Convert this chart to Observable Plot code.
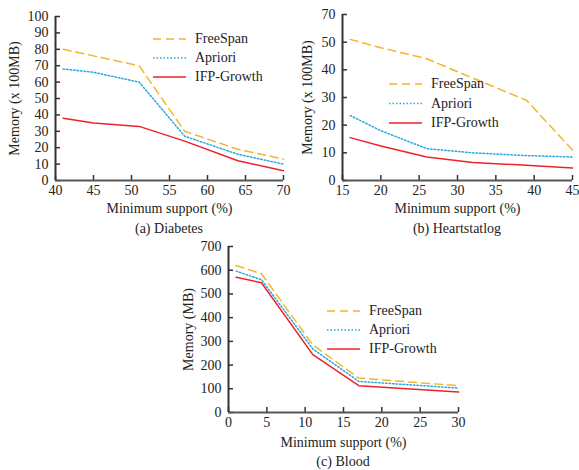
<!DOCTYPE html>
<html>
<head>
<meta charset="utf-8">
<script src="https://cdn.jsdelivr.net/npm/d3@7"></script>
<script src="https://cdn.jsdelivr.net/npm/@observablehq/plot@0.6"></script>
<style>
  html, body { margin: 0; padding: 0; background: #fff; }
  #wrap { position: relative; width: 579px; height: 470px; font-family: "Liberation Serif", "DejaVu Serif", serif; color: #222; }
  .panel { position: absolute; }
  .caption { position: absolute; font-size: 14px; text-align: center; white-space: nowrap; }
</style>
</head>
<body>
<div id="wrap"></div>
<script>
// ---------- data ----------
const seriesNames = ["FreeSpan", "Apriori", "IFP-Growth"];

// (a) Diabetes
const diabetesSupport = [41, 45, 51, 57, 64, 70];
const diabetesFreeSpan = [80, 76, 70, 30, 19, 13];
const diabetesApriori = [68, 66, 60, 27, 16, 10];
const diabetesIFP = [38, 35, 33, 24, 12, 6];
const diabetesXTicks = [40, 45, 50, 55, 60, 65, 70];
const diabetesYTicks = [0, 10, 20, 30, 40, 50, 60, 70, 80, 90, 100];
const diabetesYTickLabels = ["0", "10", "20", "30", "40", "50", "60", "70", "80", "90", "100"];

// (b) Heartstatlog
const heartSupport = [16, 20, 26, 32, 39, 45];
const heartFreeSpan = [51, 48, 44, 37, 29, 11];
const heartApriori = [23.5, 18, 11.5, 10, 9, 8.5];
const heartIFP = [15.5, 12.5, 8.5, 6.5, 5.5, 4.5];
const heartXTicks = [15, 20, 25, 30, 35, 40, 45];
const heartYTicks = [0, 10, 20, 30, 40, 50, 60];
const heartYTickLabels = ["0", "10", "20", "30", "40", "50", "70"];

// (c) Blood
const bloodSupport = [1, 4.3, 11, 17, 30];
const bloodFreeSpan = [620, 585, 285, 145, 113];
const bloodApriori = [596, 560, 268, 131, 103];
const bloodIFP = [570, 547, 244, 113, 86];
const bloodXTicks = [0, 5, 10, 15, 20, 25, 30];
const bloodYTicks = [0, 100, 200, 300, 400, 500, 600, 700];
const bloodYTickLabels = ["0", "100", "200", "300", "400", "500", "600", "700"];

const xLabel = "Minimum support (%)";

// ---------- styles ----------
const seriesStyle = {
  "FreeSpan":   {stroke: "#f5b52a", dash: "8,5"},
  "Apriori":    {stroke: "#29a8e0", dash: "1.5,2"},
  "IFP-Growth": {stroke: "#ee2229", dash: null}
};
const axisColor = "#333";
const FONT = "\"Liberation Serif\", \"DejaVu Serif\", serif";

function makePanel(cfg) {
  const {left, top, width, height, mt, mr, mb, ml, xDomain, yDomain, xTicks, yTicks, yTickLabels,
         support, values, yLabel, yLabelOffset, xLabelOffset, caption, captionTop, legend} = cfg;
  const fw = width - ml - mr, fh = height - mt - mb;
  const rows = [];
  seriesNames.forEach((name, k) => support.forEach((s, i) => rows.push({series: name, x: s, y: values[k][i]})));

  const lineMarks = seriesNames.map(name => Plot.line(rows.filter(r => r.series === name), {
    x: "x", y: "y", stroke: seriesStyle[name].stroke, strokeWidth: 1.5,
    strokeDasharray: seriesStyle[name].dash
  }));

  const svg = Plot.plot({
    width, height, marginTop: mt, marginRight: mr, marginBottom: mb, marginLeft: ml,
    style: {fontFamily: FONT, fontSize: "14px", background: "transparent", overflow: "visible", color: "#222"},
    x: {domain: xDomain},
    y: {domain: yDomain},
    marks: [
      ...lineMarks,
      Plot.tickX(xTicks, {x: d => d, insetTop: fh - 5, stroke: axisColor, strokeWidth: 1.5}),
      Plot.tickY(yTicks, {y: d => d, insetRight: fw - 5, stroke: axisColor, strokeWidth: 1.5}),
      Plot.ruleY([yDomain[0]], {stroke: "#555", strokeWidth: 2}),
      Plot.ruleX([xDomain[0]], {stroke: axisColor, strokeWidth: 2}),
      Plot.axisX(xTicks, {tickSize: 0, tickPadding: 5, fill: "#222", label: xLabel, labelAnchor: "center", labelOffset: xLabelOffset, labelArrow: "none"}),
      Plot.axisY(yTicks, {tickSize: 0, tickPadding: 7, fill: "#222", tickFormat: d => yTickLabels[yTicks.indexOf(d)],
        label: yLabel, labelAnchor: "center", labelOffset: yLabelOffset, labelArrow: "none"})
    ]
  });

  // legend (pixel layout, not data)
  const g = d3.select(svg).append("g").attr("font-family", FONT).attr("font-size", 14)
    .attr("fill", "#222").attr("text-anchor", "start");
  seriesNames.forEach((name, i) => {
    const y = legend.y + i * legend.dy;
    g.append("line").attr("x1", legend.x).attr("x2", legend.x + 33).attr("y1", y).attr("y2", y)
      .attr("stroke", seriesStyle[name].stroke).attr("stroke-width", 1.5)
      .attr("stroke-dasharray", seriesStyle[name].dash);
    g.append("text").attr("x", legend.x + 42).attr("y", y).attr("dy", "0.32em")
      .attr("text-anchor", "start").text(name);
  });

  const div = document.createElement("div");
  div.className = "panel";
  div.style.left = left + "px";
  div.style.top = top + "px";
  div.appendChild(svg);
  document.getElementById("wrap").appendChild(div);

  const cap = document.createElement("div");
  cap.className = "caption";
  cap.textContent = caption;
  cap.style.left = (left + ml - 60) + "px";
  cap.style.width = (fw + 120) + "px";
  cap.style.top = captionTop + "px";
  document.getElementById("wrap").appendChild(cap);
}

makePanel({
  left: 0, top: 0, width: 290, height: 220, mt: 16, mr: 7, mb: 40, ml: 55,
  xDomain: [40, 70], yDomain: [0, 100], xTicks: diabetesXTicks, yTicks: diabetesYTicks, yTickLabels: diabetesYTickLabels,
  support: diabetesSupport, values: [diabetesFreeSpan, diabetesApriori, diabetesIFP],
  yLabel: "Memory (x 100MB)", yLabelOffset: 46, xLabelOffset: 32,
  caption: "(a) Diabetes", captionTop: 221,
  legend: {x: 153, y: 39, dy: 19}
});

makePanel({
  left: 290, top: 0, width: 289, height: 220, mt: 14, mr: 7, mb: 40, ml: 52,
  xDomain: [15, 45], yDomain: [0, 60], xTicks: heartXTicks, yTicks: heartYTicks, yTickLabels: heartYTickLabels,
  support: heartSupport, values: [heartFreeSpan, heartApriori, heartIFP],
  yLabel: "Memory (x 100MB)", yLabelOffset: 40, xLabelOffset: 32,
  caption: "(b) Heartstatlog", captionTop: 221,
  legend: {x: 99, y: 84, dy: 19.5}
});

makePanel({
  left: 150, top: 230, width: 320, height: 220, mt: 16, mr: 12, mb: 38, ml: 78,
  xDomain: [0, 30], yDomain: [0, 700], xTicks: bloodXTicks, yTicks: bloodYTicks, yTickLabels: bloodYTickLabels,
  support: bloodSupport, values: [bloodFreeSpan, bloodApriori, bloodIFP],
  yLabel: "Memory (MB)", yLabelOffset: 45, xLabelOffset: 34,
  caption: "(c) Blood", captionTop: 454,
  legend: {x: 177, y: 81, dy: 19}
});
</script>
</body>
</html>
